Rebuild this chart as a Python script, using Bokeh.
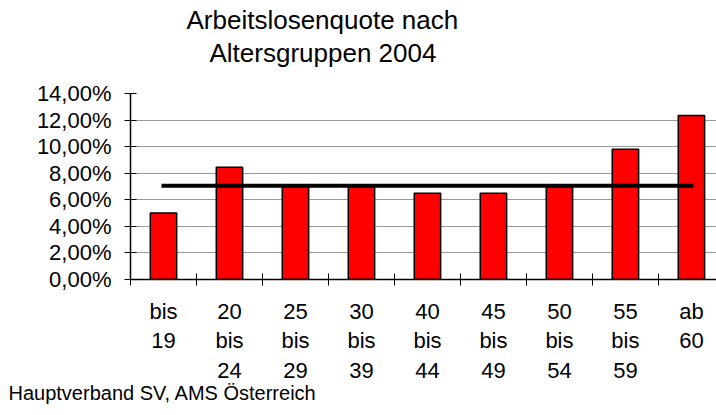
import numpy as np
from bokeh.plotting import figure
from bokeh.models import Range1d, FixedTicker, Title
from bokeh.embed import file_html
from bokeh.resources import INLINE

# ---- data ----
categories = ["bis\n19", "20\nbis\n24", "25\nbis\n29", "30\nbis\n39", "40\nbis\n44",
              "45\nbis\n49", "50\nbis\n54", "55\nbis\n59", "ab\n60"]
quote = [5.0, 8.45, 7.0, 6.95, 6.5, 6.5, 6.95, 9.8, 12.35]
average = 7.05
y_ticks = [0, 2, 4, 6, 8, 10, 12, 14]
y_tick_labels = ["0,00%", "2,00%", "4,00%", "6,00%", "8,00%", "10,00%", "12,00%", "14,00%"]
title_lines = ["Arbeitslosenquote nach", "Altersgruppen 2004"]
source = "Hauptverband SV, AMS Österreich"

FONT = "Liberation Sans"
W, H = 716, 415

centers = list(np.arange(len(categories)) + 0.5)
bounds = list(range(0, len(categories)))

p = figure(width=W, height=H, output_backend="svg", toolbar_location=None,
           x_range=Range1d(0, 8.88), y_range=Range1d(0, 14),
           min_border_left=130, min_border_right=0, min_border_top=93, min_border_bottom=136)
p.outline_line_color = None
p.background_fill_color = "white"
p.border_fill_color = "white"

p.vbar(x=centers, top=quote, width=0.4, fill_color="#ff0000",
       line_color="black", line_width=1.5)
p.line(x=centers, y=[average] * len(categories), line_color="black", line_width=4,
       line_cap="square")

# y axis
yax = p.yaxis[0]
yax.ticker = FixedTicker(ticks=y_ticks)
yax.major_label_overrides = {t: l for t, l in zip(y_ticks, y_tick_labels)}
yax.minor_tick_line_color = None
yax.major_tick_in = 6
yax.major_tick_out = 6
yax.major_tick_line_color = "black"
yax.axis_line_color = "black"
yax.axis_line_width = 1.5
yax.major_label_text_font = FONT
yax.major_label_text_font_size = "22px"
yax.major_label_text_color = "black"
yax.major_label_standoff = 13

# x axis
xax = p.xaxis[0]
xax.ticker = FixedTicker(ticks=centers, minor_ticks=bounds)
xax.major_label_overrides = {c: l for c, l in zip(centers, categories)}
xax.major_tick_in = 0
xax.major_tick_out = 0
xax.minor_tick_in = 6
xax.minor_tick_out = 6
xax.minor_tick_line_color = "black"
xax.axis_line_color = "black"
xax.axis_line_width = 1.5
xax.major_label_text_font = FONT
xax.major_label_text_font_size = "22px"
xax.major_label_text_color = "black"
xax.major_label_text_line_height = 1.19
xax.major_label_standoff = 13

p.xgrid.grid_line_color = None
p.ygrid.ticker = FixedTicker(ticks=y_ticks)
p.ygrid.grid_line_color = "#999999"
p.ygrid.grid_line_width = 1.2

# titles (first added sits nearest the frame); a blank spacer keeps a gap above the frame
p.add_layout(Title(text=" ", align="left", text_font=FONT, text_font_size="20px",
                   text_font_style="normal", standoff=0), "above")
p.add_layout(Title(text=title_lines[1], align="left", offset=79, text_font=FONT,
                   text_font_size="26px", text_font_style="normal", text_color="black",
                   standoff=3), "above")
p.add_layout(Title(text=title_lines[0], align="left", offset=56, text_font=FONT,
                   text_font_size="26px", text_font_style="normal", text_color="black",
                   standoff=0), "above")
p.add_layout(Title(text=source, align="left", offset=-122, text_font=FONT,
                   text_font_size="20px", text_font_style="normal", text_color="black",
                   standoff=-14), "below")

open("out.html", "w").write(file_html(p, INLINE))
